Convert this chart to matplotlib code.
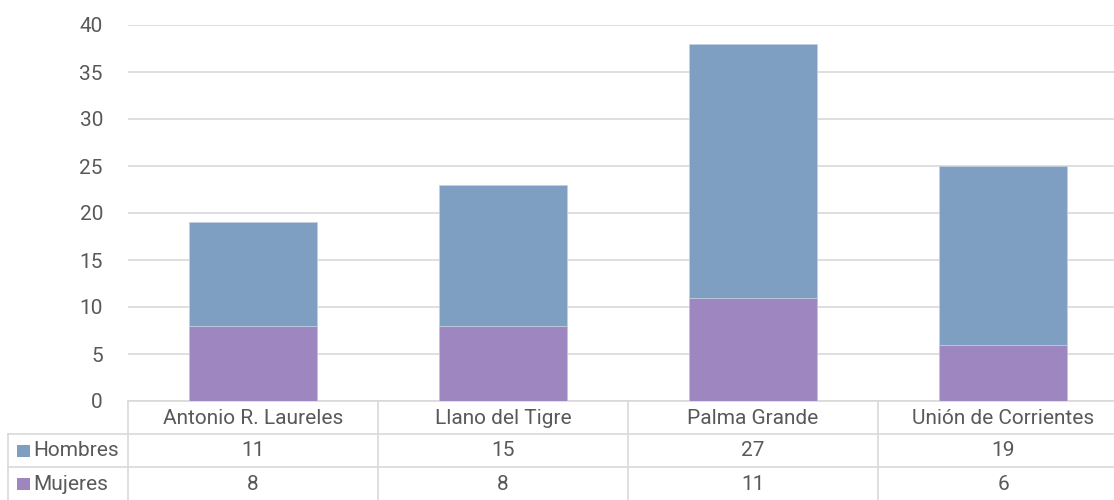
import matplotlib.pyplot as plt
from matplotlib.patches import Rectangle
from matplotlib.transforms import blended_transform_factory

plt.rcParams['font.family'] = ['Roboto', 'DejaVu Sans']

# --- Data ---
categories = ['Antonio R. Laureles', 'Llano del Tigre', 'Palma Grande', 'Unión de Corrientes']
hombres = [11, 15, 27, 19]
mujeres = [8, 8, 11, 6]
series_names = ['Hombres', 'Mujeres']

C_HOM = '#7f9fc2'
C_MUJ = '#9e86c1'
C_GRID = '#d9d9d9'
C_TEXT = '#595959'
FS = 15

W, H = 1114, 500
fig = plt.figure(figsize=(W / 100, H / 100), dpi=100)
# plot area: x 128 -> 1128 px (right part cut off by the figure edge), y 25 -> 401 px
ax = fig.add_axes([128 / W, (H - 401) / H, 1000 / W, 376 / H])

x = list(range(len(categories)))
ax.bar(x, mujeres, width=0.51, color=C_MUJ, edgecolor='#c9c0dd', linewidth=0.5, zorder=3)
ax.bar(x, hombres, width=0.51, bottom=mujeres, color=C_HOM, edgecolor='#c3d0e0', linewidth=0.5, zorder=3)

ax.set_xlim(-0.5, len(categories) - 0.5)
ax.set_ylim(0, 40)
ax.set_yticks(range(0, 41, 5))
ax.yaxis.grid(True, color=C_GRID, linewidth=1.2, zorder=0)
ax.set_axisbelow(True)
ax.set_xticks([])
for s in ax.spines.values():
    s.set_visible(False)
ax.tick_params(axis='y', length=0, pad=18, labelsize=FS, labelcolor=C_TEXT)

# --- Data table below the plot ---
# x in data units, y in pixels below the plot area (converted to axes fraction)
def py(px):
    return (401 - px) / 376.0

tr = blended_transform_factory(ax.transData, ax.transAxes)
x_left = (8 - 128) / 250.0 - 0.5
x_right = len(categories) - 0.5 + 0.5
line_kw = dict(color=C_GRID, linewidth=1.2, transform=tr, clip_on=False)

ax.plot([-0.5, x_right], [py(401), py(401)], **line_kw)
for yy in (434, 467):
    ax.plot([x_left, x_right], [py(yy), py(yy)], **line_kw)
for i in range(len(categories) + 1):
    ax.plot([i - 0.5, i - 0.5], [py(401), py(500)], **line_kw)
ax.plot([x_left, x_left], [py(434), py(500)], **line_kw)

for i, cat in enumerate(categories):
    ax.text(i, py(418), cat, ha='center', va='center', fontsize=FS, color=C_TEXT,
            transform=tr, clip_on=False)

rows = [(series_names[0], hombres, C_HOM, 451), (series_names[1], mujeres, C_MUJ, 484)]
for name, vals, col, yc in rows:
    ax.add_patch(Rectangle(((17 - 128) / 250.0 - 0.5, py(yc + 6)), 13 / 250.0, 12 / 376.0,
                           facecolor=col, edgecolor='none', transform=tr, clip_on=False))
    ax.text((33 - 128) / 250.0 - 0.5, py(yc), name, ha='left', va='center', fontsize=FS,
            color=C_TEXT, transform=tr, clip_on=False)
    for i, v in enumerate(vals):
        ax.text(i, py(yc), str(v), ha='center', va='center', fontsize=FS, color=C_TEXT,
                transform=tr, clip_on=False)

fig.savefig('out.png', dpi=100)
